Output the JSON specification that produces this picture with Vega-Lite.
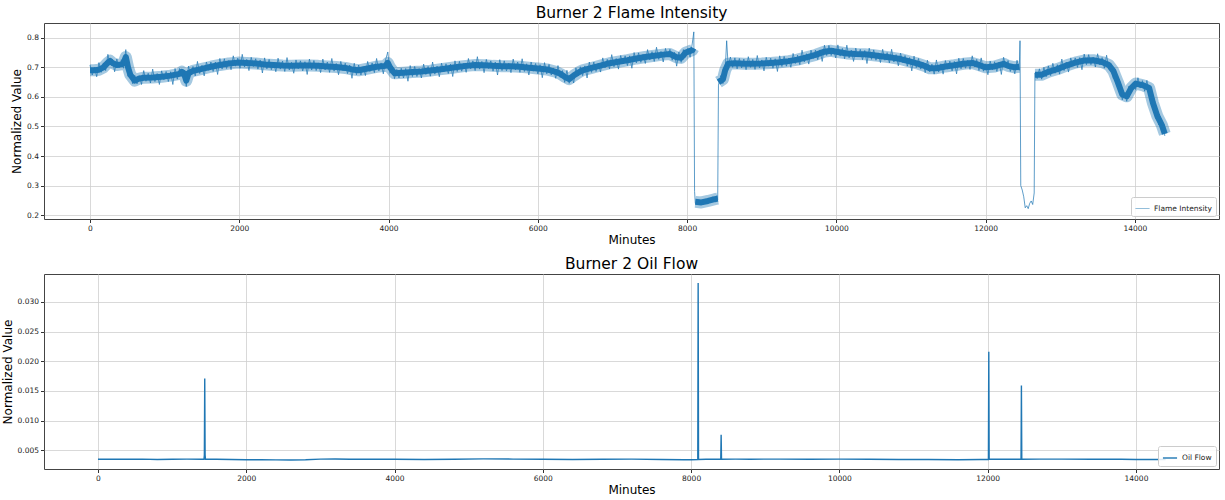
{
 "$schema": "https://vega.github.io/schema/vega-lite/v6.json",
 "padding": {"left": 0, "top": 5, "right": 3, "bottom": 2},
 "spacing": 10,
 "resolve": {"scale": {"color": "independent"}, "legend": {"color": "independent"}},
 "config": {
  "font": "DejaVu Sans",
  "view": {"stroke": "#444", "strokeWidth": 1},
  "axis": {"domain": false, "grid": true, "gridColor": "#cfcfcf", "gridWidth": 0.8, "tickColor": "#333", "tickSize": 3.5, "labelFontSize": 7.5, "labelColor": "#222", "labelPadding": 2, "titleFontSize": 12, "titleFontWeight": "normal", "titleColor": "#000", "labelFont": "DejaVu Sans", "titleFont": "DejaVu Sans"},
  "title": {"fontSize": 15.5, "fontWeight": "normal", "color": "#000", "offset": 2, "font": "DejaVu Sans"},
  "legend": {"strokeColor": "#cccccc", "fillColor": "rgba(255,255,255,0.85)", "padding": 4, "cornerRadius": 2, "labelFontSize": 7.5, "labelColor": "#222", "symbolType": "stroke", "symbolSize": 200, "offset": 3, "labelFont": "DejaVu Sans"}
 },
 "vconcat": [
  {
   "title": "Burner 2 Flame Intensity",
   "width": 1175,
   "height": 196,
   "encoding": {
    "x": {"field": "m", "type": "quantitative", "scale": {"domain": [-616, 15126], "nice": false, "zero": false}, "axis": {"values": [0, 2000, 4000, 6000, 8000, 10000, 12000, 14000], "format": "d", "title": "Minutes", "titlePadding": 2}},
    "y": {"field": "v", "type": "quantitative", "scale": {"domain": [0.187, 0.85], "nice": false, "zero": false}, "axis": {"values": [0.2, 0.3, 0.4, 0.5, 0.6, 0.7, 0.8], "format": ".1f", "title": "Normalized Value", "titlePadding": 3}}
   },
   "layer": [
    {
     "data": {"format": {"type": "csv", "parse": {"m": "number", "v": "number"}}, "values": "m,v,s\n0,.690,a\n60,.690,a\n120,.692,a\n180,.700,a\n240,.716,a\n270,.722,a\n300,.715,a\n360,.708,a\n420,.710,a\n450,.715,a\n480,.735,a\n510,.700,a\n540,.675,a\n600,.655,a\n660,.662,a\n720,.665,a\n840,.666,a\n960,.668,a\n1080,.672,a\n1200,.678,a\n1230,.685,a\n1260,.680,a\n1290,.655,a\n1320,.680,a\n1380,.688,a\n1500,.695,a\n1620,.702,a\n1740,.708,a\n1860,.713,a\n1980,.716,a\n2100,.715,a\n2220,.713,a\n2340,.710,a\n2460,.708,a\n2580,.706,a\n2700,.705,a\n2820,.706,a\n2940,.706,a\n3060,.705,a\n3180,.703,a\n3300,.701,a\n3420,.698,a\n3510,.693,a\n3600,.690,a\n3720,.696,a\n3840,.702,a\n3960,.705,a\n3990,.715,a\n4020,.700,a\n4080,.680,a\n4200,.682,a\n4320,.684,a\n4440,.686,a\n4560,.689,a\n4680,.693,a\n4800,.697,a\n4920,.701,a\n5040,.705,a\n5160,.708,a\n5280,.707,a\n5400,.705,a\n5520,.704,a\n5640,.704,a\n5760,.702,a\n5880,.699,a\n6000,.696,a\n6120,.693,a\n6240,.685,a\n6300,.678,a\n6360,.668,a\n6420,.660,a\n6480,.672,a\n6540,.682,a\n6600,.690,a\n6720,.698,a\n6840,.706,a\n6960,.714,a\n7080,.719,a\n7200,.724,a\n7320,.730,a\n7440,.735,a\n7560,.739,a\n7680,.743,a\n7770,.745,a\n7860,.734,a\n7920,.732,a\n7980,.750,a\n8070,.758,a\n8085,.765,a\n8110,.245,b\n8190,.243,b\n8280,.248,b\n8370,.254,b\n8410,.256,b\n8420,.650,c\n8480,.660,c\n8510,.690,c\n8550,.712,c\n8640,.714,c\n8760,.712,c\n8880,.712,c\n9000,.713,c\n9120,.715,c\n9240,.717,c\n9360,.721,c\n9480,.726,c\n9600,.734,c\n9720,.742,c\n9840,.753,c\n9930,.756,c\n10020,.752,c\n10140,.747,c\n10260,.745,c\n10380,.744,c\n10500,.741,c\n10620,.737,c\n10740,.733,c\n10860,.728,c\n10980,.720,c\n11100,.712,c\n11190,.704,c\n11250,.697,c\n11340,.697,c\n11460,.703,c\n11580,.707,c\n11700,.712,c\n11820,.715,c\n11910,.708,c\n12000,.700,c\n12120,.703,c\n12240,.712,c\n12300,.705,c\n12390,.700,c\n12450,.702,c\n12660,.675,e\n12750,.675,e\n12840,.685,e\n12960,.694,e\n13080,.706,e\n13200,.716,e\n13320,.723,e\n13440,.724,e\n13560,.718,e\n13650,.708,e\n13710,.688,e\n13770,.650,e\n13830,.608,e\n13890,.602,e\n13950,.630,e\n14010,.645,e\n14100,.640,e\n14190,.630,e\n14240,.580,e\n14300,.535,e\n14360,.505,e\n14400,.475,e"},
     "encoding": {"detail": {"field": "s", "type": "nominal"}},
     "layer": [
      {"mark": {"type": "line", "strokeWidth": 12, "color": "#1f77b4", "opacity": 0.4, "strokeJoin": "round"}},
      {"mark": {"type": "line", "strokeWidth": 6, "color": "#1f77b4", "strokeJoin": "round"}}
     ]
    },
    {
     "data": {"format": {"type": "csv", "parse": {"m": "number", "v": "number"}}, "values": "m,v\n0,.708\n30,.674\n60,.700\n90,.668\n120,.716\n150,.683\n180,.715\n210,.689\n240,.744\n270,.708\n300,.727\n330,.685\n360,.728\n390,.698\n420,.726\n450,.697\n480,.760\n510,.670\n540,.697\n570,.645\n600,.673\n630,.644\n660,.672\n690,.642\n720,.689\n750,.653\n780,.680\n810,.647\n840,.694\n870,.652\n900,.679\n930,.642\n960,.688\n990,.658\n1020,.686\n1050,.652\n1080,.685\n1110,.642\n1140,.696\n1170,.660\n1200,.696\n1230,.669\n1260,.690\n1290,.635\n1320,.704\n1350,.674\n1380,.703\n1410,.671\n1440,.720\n1470,.679\n1500,.707\n1530,.671\n1560,.718\n1590,.690\n1620,.718\n1650,.686\n1680,.718\n1710,.676\n1740,.730\n1770,.694\n1800,.729\n1830,.696\n1860,.723\n1890,.692\n1920,.739\n1950,.704\n1980,.731\n2010,.697\n2040,.744\n2070,.701\n2100,.727\n2130,.689\n2160,.734\n2190,.703\n2220,.729\n2250,.694\n2280,.725\n2310,.681\n2340,.732\n2370,.695\n2400,.727\n2430,.692\n2460,.718\n2490,.685\n2520,.731\n2550,.694\n2580,.721\n2610,.686\n2640,.733\n2670,.691\n2700,.717\n2730,.680\n2760,.725\n2790,.695\n2820,.722\n2850,.688\n2880,.719\n2910,.676\n2940,.728\n2970,.691\n3000,.723\n3030,.689\n3060,.715\n3090,.682\n3120,.728\n3150,.691\n3180,.718\n3210,.683\n3240,.730\n3270,.687\n3300,.713\n3330,.675\n3360,.720\n3390,.689\n3420,.714\n3450,.679\n3480,.708\n3510,.663\n3540,.714\n3570,.675\n3600,.708\n3630,.674\n3660,.702\n3690,.672\n3720,.720\n3750,.686\n3780,.715\n3810,.682\n3840,.730\n3870,.688\n3900,.715\n3930,.678\n3960,.725\n3990,.752\n4020,.680\n4050,.697\n4080,.662\n4110,.693\n4140,.664\n4170,.697\n4200,.664\n4230,.696\n4260,.653\n4290,.706\n4320,.669\n4350,.703\n4380,.669\n4410,.696\n4440,.664\n4470,.711\n4500,.676\n4530,.703\n4560,.670\n4590,.718\n4620,.677\n4650,.704\n4680,.668\n4710,.714\n4740,.685\n4770,.712\n4800,.679\n4830,.711\n4860,.669\n4890,.722\n4920,.686\n4950,.720\n4980,.687\n5010,.714\n5040,.683\n5070,.730\n5100,.695\n5130,.722\n5160,.689\n5190,.736\n5220,.694\n5250,.720\n5280,.682\n5310,.727\n5340,.696\n5370,.722\n5400,.687\n5430,.718\n5460,.674\n5490,.726\n5520,.689\n5550,.722\n5580,.688\n5610,.714\n5640,.682\n5670,.728\n5700,.691\n5730,.718\n5760,.683\n5790,.729\n5820,.686\n5850,.712\n5880,.674\n5910,.718\n5940,.687\n5970,.713\n6000,.678\n6030,.709\n6060,.665\n6090,.716\n6120,.678\n6150,.710\n6180,.674\n6210,.698\n6240,.663\n6270,.706\n6300,.666\n6330,.689\n6360,.649\n6390,.690\n6420,.646\n6450,.677\n6480,.647\n6510,.698\n6540,.672\n6570,.702\n6600,.672\n6630,.705\n6660,.664\n6690,.718\n6720,.683\n6750,.718\n6780,.686\n6810,.714\n6840,.684\n6870,.732\n6900,.698\n6930,.727\n6960,.695\n6990,.743\n7020,.702\n7050,.730\n7080,.694\n7110,.740\n7140,.712\n7170,.739\n7200,.706\n7230,.739\n7260,.697\n7290,.750\n7320,.715\n7350,.749\n7380,.717\n7410,.744\n7440,.713\n7470,.760\n7500,.725\n7530,.753\n7560,.720\n7590,.768\n7620,.727\n7650,.754\n7680,.718\n7710,.764\n7740,.735\n7770,.761\n7800,.724\n7830,.751\n7860,.704\n7890,.752\n7920,.717\n7950,.760\n7980,.734\n8010,.764\n8040,.734\n8070,.782\n8090,.820\n8100,.280\n8110,.240\n8130,.238\n8160,.252\n8190,.236\n8220,.250\n8250,.240\n8280,.256\n8310,.244\n8340,.262\n8370,.248\n8400,.266\n8410,.252\n8420,.640\n8450,.672\n8480,.645\n8510,.690\n8530,.790\n8550,.705\n8580,.735\n8610,.700\n8640,.732\n8670,.695\n8700,.730\n8730,.698\n8760,.728\n8790,.692\n8820,.736\n8850,.700\n8880,.727\n8910,.693\n8940,.740\n8970,.698\n9000,.725\n9030,.688\n9060,.734\n9090,.704\n9120,.731\n9150,.697\n9180,.729\n9210,.686\n9240,.739\n9270,.703\n9300,.737\n9330,.704\n9360,.731\n9390,.700\n9420,.747\n9450,.713\n9480,.741\n9510,.709\n9540,.758\n9570,.718\n9600,.746\n9630,.711\n9660,.758\n9690,.730\n9720,.758\n9750,.726\n9780,.759\n9810,.720\n9840,.775\n9870,.740\n9900,.774\n9930,.740\n9960,.765\n9990,.732\n10020,.776\n10050,.738\n10080,.764\n10110,.729\n10140,.775\n10170,.732\n10200,.758\n10230,.720\n10260,.765\n10290,.735\n10320,.761\n10350,.726\n10380,.757\n10410,.713\n10440,.765\n10470,.727\n10500,.759\n10530,.724\n10560,.749\n10590,.716\n10620,.761\n10650,.724\n10680,.750\n10710,.715\n10740,.761\n10770,.718\n10800,.743\n10830,.705\n10860,.748\n10890,.716\n10920,.740\n10950,.704\n10980,.733\n11010,.688\n11040,.738\n11070,.699\n11100,.730\n11130,.694\n11160,.717\n11190,.682\n11220,.724\n11250,.685\n11280,.711\n11310,.677\n11340,.725\n11370,.684\n11400,.712\n11430,.677\n11460,.723\n11490,.694\n11520,.721\n11550,.688\n11580,.720\n11610,.678\n11640,.731\n11670,.695\n11700,.730\n11730,.697\n11760,.724\n11790,.693\n11820,.739\n11850,.702\n11880,.727\n11910,.689\n11940,.732\n11970,.687\n12000,.712\n12030,.675\n12060,.721\n12090,.692\n12120,.719\n12150,.686\n12180,.718\n12210,.676\n12240,.734\n12270,.700\n12300,.723\n12330,.686\n12360,.710\n12390,.678\n12420,.724\n12450,.690\n12460,.790\n12470,.300\n12490,.285\n12510,.262\n12530,.225\n12550,.232\n12570,.222\n12590,.240\n12610,.248\n12630,.236\n12650,.275\n12660,.680\n12690,.662\n12720,.695\n12750,.660\n12780,.700\n12810,.668\n12840,.705\n12870,.672\n12900,.714\n12930,.680\n12960,.709\n12990,.677\n13020,.728\n13050,.689\n13080,.718\n13110,.684\n13140,.732\n13170,.704\n13200,.732\n13230,.700\n13260,.733\n13290,.692\n13320,.745\n13350,.709\n13380,.743\n13410,.709\n13440,.734\n13470,.701\n13500,.746\n13530,.708\n13560,.733\n13590,.697\n13620,.741\n13650,.694\n13680,.712\n13710,.663\n13740,.690\n13770,.640\n13800,.644\n13830,.590\n13860,.613\n13890,.585\n13920,.636\n13950,.614\n13980,.650\n14010,.625\n14040,.665\n14070,.630\n14100,.655\n14130,.619\n14160,.656\n14190,.616\n14220,.617\n14240,.560\n14260,.575\n14280,.527\n14300,.548\n14320,.505\n14340,.533\n14360,.489\n14380,.505\n14400,.468"},
     "mark": {"type": "line", "strokeWidth": 0.8, "opacity": 0.9},
     "encoding": {
      "color": {"datum": "Flame Intensity", "scale": {"range": ["#1f77b4"]}, "legend": {"title": null, "orient": "bottom-right", "symbolStrokeWidth": 0.8, "symbolOpacity": 0.6}}
     }
    }
   ]
  },
  {
   "title": "Burner 2 Oil Flow",
   "width": 1175,
   "height": 195,
   "data": {"format": {"type": "csv", "parse": {"m": "number", "v": "number"}}, "values": "m,v\n0,.00350\n200,.00352\n400,.00348\n600,.00352\n800,.00346\n1000,.00350\n1200,.00352\n1400,.00350\n1430,.00350\n1435,.00420\n1440,.01710\n1445,.00420\n1450,.00350\n1600,.00348\n1800,.00345\n2000,.00342\n2200,.00340\n2400,.00338\n2600,.00336\n2800,.00340\n3000,.00352\n3200,.00354\n3400,.00350\n3600,.00348\n3800,.00350\n4000,.00350\n4400,.00345\n4800,.00350\n5200,.00355\n5600,.00352\n6000,.00348\n6400,.00346\n6800,.00350\n7200,.00352\n7600,.00345\n7900,.00342\n8000,.00340\n8090,.00345\n8095,.03320\n8100,.00345\n8200,.00348\n8400,.00350\n8405,.00760\n8410,.00350\n8600,.00352\n8800,.00350\n9200,.00352\n9600,.00350\n10000,.00352\n10400,.00350\n10800,.00346\n11200,.00344\n11600,.00342\n11900,.00345\n12010,.00345\n12015,.02160\n12020,.00350\n12200,.00350\n12450,.00350\n12455,.01590\n12460,.00350\n12700,.00352\n13000,.00352\n13400,.00350\n13800,.00348\n14000,.00346\n14400,.00345"},
   "mark": {"type": "line", "strokeWidth": 1.4},
   "encoding": {
    "x": {"field": "m", "type": "quantitative", "scale": {"domain": [-728, 15120], "nice": false, "zero": false}, "axis": {"values": [0, 2000, 4000, 6000, 8000, 10000, 12000, 14000], "format": "d", "title": "Minutes", "titlePadding": 2}},
    "y": {"field": "v", "type": "quantitative", "scale": {"domain": [0.00185, 0.0347], "nice": false, "zero": false}, "axis": {"values": [0.005, 0.01, 0.015, 0.02, 0.025, 0.03], "format": ".3f", "title": "Normalized Value", "titlePadding": 3}},
    "color": {"datum": "Oil Flow", "scale": {"range": ["#1f77b4"]}, "legend": {"title": null, "orient": "bottom-right", "symbolStrokeWidth": 1.4}}
   }
  }
 ]
}
